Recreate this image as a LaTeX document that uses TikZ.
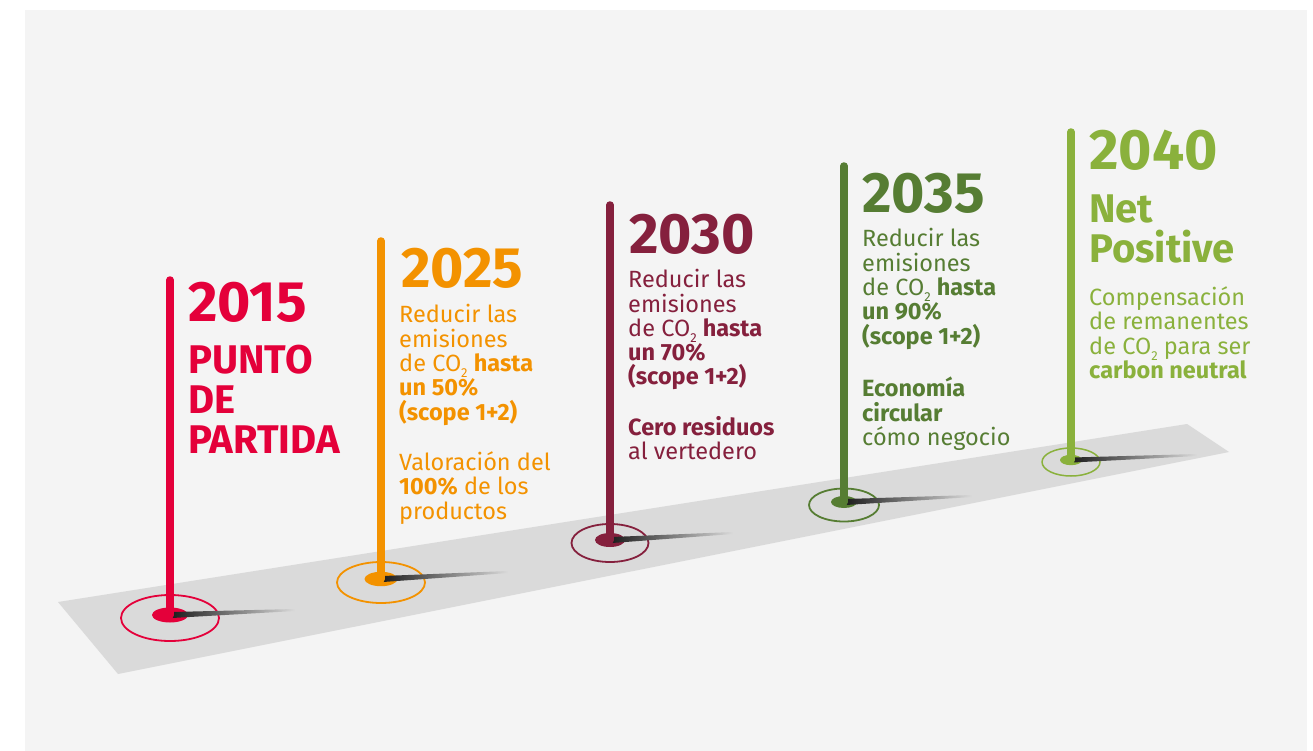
\documentclass[tikz,border=0pt]{standalone}
\usepackage{fontspec}
\setmainfont{Fira Sans}
\definecolor{bgc}{HTML}{F4F4F4}
\definecolor{bandc}{HTML}{DADADA}
\definecolor{shadc}{HTML}{1E1E1E}
\definecolor{cA}{HTML}{E4003A}
\definecolor{cB}{HTML}{F39200}
\definecolor{cC}{HTML}{85203D}
\definecolor{cD}{HTML}{567D33}
\definecolor{cE}{HTML}{8AB13C}
\newcommand\subtwo{\raisebox{-6pt}{\fontsize{13}{13}\selectfont 2}}
\tikzset{
  pole/.style={line width=7.5pt, line cap=round},
  ring/.style={line width=1.8pt},
  yearlbl/.style={anchor=base west, inner sep=0pt, font=\fontsize{57}{57}\selectfont\bfseries},
  headlbl/.style={anchor=base west, inner sep=0pt, align=left, font=\fontsize{40}{40}\selectfont\bfseries},
  bodylbl/.style={anchor=base west, inner sep=0pt, align=left, font=\fontsize{23.5}{24.3}\selectfont},
}
\begin{document}
\begin{tikzpicture}[x=1pt,y=-1pt]
\useasboundingbox (0,0) rectangle (1313,751);
\fill[white] (0,0) rectangle (1313,751);
\fill[bgc] (25,10) rectangle (1307,751);
\fill[bandc] (58,602) -- (1187,424) -- (1229,452) -- (118,674) -- cycle;

% coordinates
\coordinate (t1) at (170,280); \coordinate (b1) at (170,615); \coordinate (s1) at (295,610);
\coordinate (t2) at (381,241); \coordinate (b2) at (381,579); \coordinate (s2) at (508,572);
\coordinate (t3) at (610,205); \coordinate (b3) at (610,540); \coordinate (s3) at (733,533);
\coordinate (t4) at (844,166); \coordinate (b4) at (844,502); \coordinate (s4) at (972,496);
\coordinate (t5) at (1071,132); \coordinate (b5) at (1071,460); \coordinate (s5) at (1197,455);

% 2015
\draw[cA, ring] (170,618) ellipse [x radius=49, y radius=23];
\fill[cA] (b1) ellipse [x radius=18, y radius=7.5];
\shade[left color=shadc, right color=bandc] ([shift={(2,-3)}]b1) -- ([shift={(0,-1)}]s1) -- ([shift={(0,1)}]s1) -- ([shift={(2,3)}]b1) -- cycle;
\draw[cA, pole] (t1) -- (b1);
% 2025
\draw[cB, ring] (381,582.5) ellipse [x radius=44, y radius=20.5];
\fill[cB] (b2) ellipse [x radius=16.5, y radius=7.2];
\shade[left color=shadc, right color=bandc] ([shift={(2,-3)}]b2) -- ([shift={(0,-1)}]s2) -- ([shift={(0,1)}]s2) -- ([shift={(2,3)}]b2) -- cycle;
\draw[cB, pole] (t2) -- (b2);
% 2030
\draw[cC, ring] (610,543) ellipse [x radius=38.5, y radius=19];
\fill[cC] (b3) ellipse [x radius=15, y radius=7];
\shade[left color=shadc, right color=bandc] ([shift={(2,-3)}]b3) -- ([shift={(0,-1)}]s3) -- ([shift={(0,1)}]s3) -- ([shift={(2,3)}]b3) -- cycle;
\draw[cC, pole] (t3) -- (b3);
% 2035
\draw[cD, ring] (844,505) ellipse [x radius=35, y radius=16.5];
\fill[cD] (b4) ellipse [x radius=13, y radius=6];
\shade[left color=shadc, right color=bandc] ([shift={(2,-3)}]b4) -- ([shift={(0,-1)}]s4) -- ([shift={(0,1)}]s4) -- ([shift={(2,3)}]b4) -- cycle;
\draw[cD, pole] (t4) -- (b4);
% 2040
\draw[cE, ring, line width=1.5pt] (1071,462) ellipse [x radius=29, y radius=14];
\fill[cE] (b5) ellipse [x radius=11, y radius=5.2];
\shade[left color=shadc, right color=bandc] ([shift={(2,-2.5)}]b5) -- ([shift={(0,-1)}]s5) -- ([shift={(0,1)}]s5) -- ([shift={(2,2.5)}]b5) -- cycle;
\draw[cE, pole] (t5) -- (b5);

% texts (multi-line nodes are anchored at the baseline of their last line)
\node[yearlbl, text=cA] (y1) at (188,321) {2015};
\node[headlbl, text=cA] (h1) at (188,453) {PUNTO\\DE\\PARTIDA};

\node[yearlbl, text=cB] (y2) at (401,287) {2025};
\node[bodylbl, text=cB] (d2) at (399,519) {Reducir las\\emisiones\\de CO\subtwo{} \textbf{hasta}\\\textbf{un 50\%}\\\textbf{(scope 1+2)}\\[26pt]Valoración del\\\textbf{100\%} de los\\productos};

\node[yearlbl, text=cC] (y3) at (629,253) {2030};
\node[bodylbl, text=cC] (d3) at (628,459.5) {Reducir las\\emisiones\\de CO\subtwo{} \textbf{hasta}\\\textbf{un 70\%}\\\textbf{(scope 1+2)}\\[26pt]\textbf{Cero residuos}\\al vertedero};

\node[yearlbl, text=cD] (y4) at (862,213) {2035};
\node[bodylbl, text=cD] (d4) at (862,445.5) {Reducir las\\emisiones\\de CO\subtwo{} \textbf{hasta}\\\textbf{un 90\%}\\\textbf{(scope 1+2)}\\[27pt]\textbf{Economía}\\\textbf{circular}\\cómo negocio};

\node[yearlbl, text=cE] (y5) at (1089,170) {2040};
\node[headlbl, text=cE] (h5) at (1089,262) {Net\\Positive};
\node[bodylbl, text=cE] (d5) at (1089,378.5) {Compensación\\de remanentes\\de CO\subtwo{} para ser\\\textbf{carbon neutral}};
\end{tikzpicture}
\end{document}
